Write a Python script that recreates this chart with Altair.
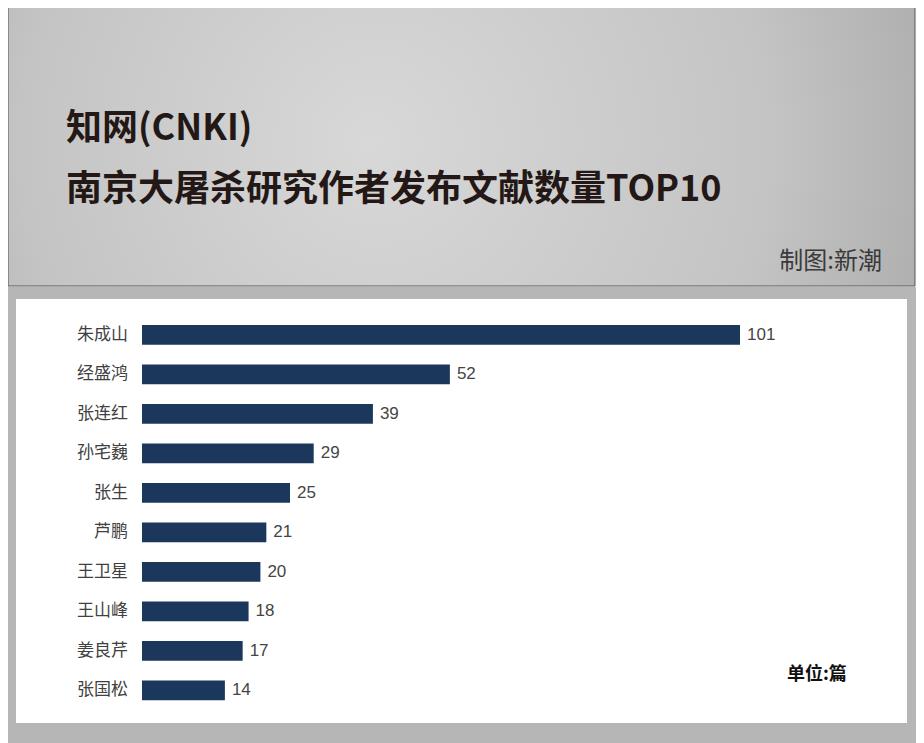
import altair as alt
import pandas as pd

# ---- data ----
names = ["朱成山", "经盛鸿", "张连红", "孙宅巍", "张生", "芦鹏", "王卫星", "王山峰", "姜良芹", "张国松"]
values = [101, 52, 39, 29, 25, 21, 20, 18, 17, 14]

title1 = "知网(CNKI)"
title2 = "南京大屠杀研究作者发布文献数量TOP10"
credit = "制图:新潮"
unit = "单位:篇"

df = pd.DataFrame({"name": names, "value": values})
one = pd.DataFrame({"k": [0]})

W, H = 908, 735
CJK = "Noto Sans CJK SC"
BAR = "#1c375c"

# ---- decorative background ----
texture = alt.Chart(one).mark_rect(
    fill=alt.Gradient(
        gradient="radial",
        stops=[alt.GradientStop(color="#d8d8d8", offset=0),
               alt.GradientStop(color="#c4c4c4", offset=0.55),
               alt.GradientStop(color="#9c9c9c", offset=1)],
        x1=0.4, y1=0.5, x2=0.45, y2=0.5, r1=0, r2=0.75),
    stroke="#555555", strokeWidth=1,
).encode(x=alt.value(0), x2=alt.value(907), y=alt.value(-8), y2=alt.value(278))

band = alt.Chart(one).mark_rect(fill="#b6b6b6").encode(
    x=alt.value(-8), x2=alt.value(916), y=alt.value(279), y2=alt.value(740))

panel = alt.Chart(one).mark_rect(fill="#ffffff").encode(
    x=alt.value(8), x2=alt.value(899), y=alt.value(291), y2=alt.value(715))

def label(text, x, y, size, color, weight="normal", align="left", font=CJK):
    return alt.Chart(one).mark_text(
        text=text, font=font, fontSize=size, fontWeight=weight, color=color,
        align=align, baseline="middle",
    ).encode(x=alt.value(x), y=alt.value(y))

t1 = label(title1, 58, 121, 36, "#231815", "bold")
t2 = label(title2, 58, 182, 36, "#231815", "bold")
t3 = label(credit, 874, 254, 24, "#3a3a3a", align="right")
t4 = label(unit, 779, 667, 18, "#111111", "bold")

# ---- bars ----
yscale = alt.Scale(range=[307, 702], paddingInner=0.5, paddingOuter=0.25)
xscale = alt.Scale(domain=[0, 101], range=[134, 732])

base = alt.Chart(df)
bars = base.mark_bar(color=BAR, cornerRadius=0).encode(
    y=alt.Y("name:N", sort=None, scale=yscale, axis=None),
    x=alt.X("value:Q", scale=xscale, axis=None),
)
vals = base.mark_text(align="left", baseline="middle", dx=7, fontSize=17,
                      font="Liberation Sans", color="#454545").encode(
    y=alt.Y("name:N", sort=None, scale=yscale, axis=None),
    x=alt.X("value:Q", scale=xscale, axis=None),
    text="value:Q",
)
cats = base.mark_text(align="right", baseline="middle", fontSize=17,
                      font=CJK, color="#404040").encode(
    y=alt.Y("name:N", sort=None, scale=yscale, axis=None),
    x=alt.value(120),
    text="name:N",
)

chart = alt.layer(texture, band, panel, t1, t2, t3, bars, vals, cats, t4).properties(
    width=W, height=H,
    autosize=alt.AutoSizeParams(type="none"),
    padding=0,
    background="#ffffff",
).configure_view(stroke=None)

chart.save("out.html", embed_options={"renderer": "svg", "actions": False})
